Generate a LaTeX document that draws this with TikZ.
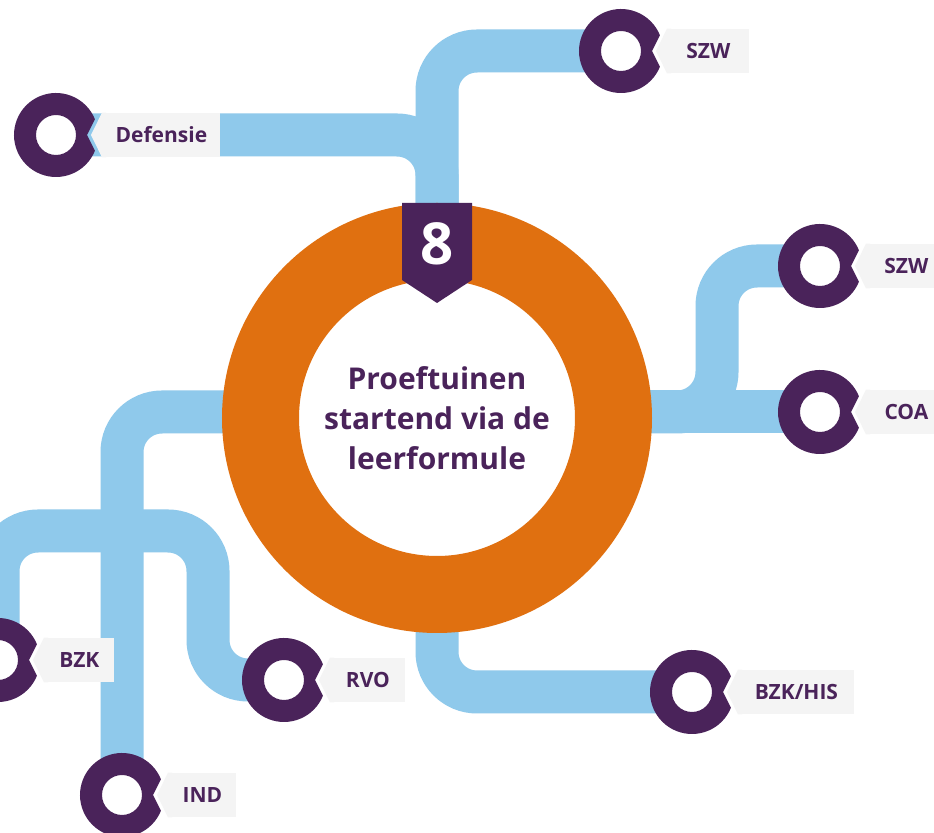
\documentclass[tikz,border=0pt]{standalone}
\usepackage{fontspec}
\setmainfont{Open Sans}
\usetikzlibrary{calc}
\definecolor{purp}{HTML}{4A235A}
\definecolor{pipeblue}{HTML}{8FC9EB}
\definecolor{orng}{HTML}{E07010}
\definecolor{lblgray}{HTML}{F4F4F4}

\tikzset{
  pipe/.style={draw=pipeblue, line width=21.5pt, rounded corners=20pt},
  stationring/.pic={
    \fill[white] (0,0) circle[radius=22];
    \fill[purp, even odd rule] (22:42) arc[start angle=22, end angle=338, radius=42]
      -- (31,0) -- cycle (0,0) circle[radius=20];
  },
  lbl/.style={fill=lblgray, text=purp, font=\bfseries\fontsize{10.5}{12}\selectfont,
    minimum height=22pt, inner sep=0pt, anchor=west},
}

% ring with a notch, plus a label tag pointing at it
\newcommand\station[3]{%
  \pic at (#1) {stationring};
  \node[lbl, minimum width=#3] (l#1) at ($(#1)+(46,0)$) {#2};
  \fill[lblgray] (l#1.north west) -- ($(#1)+(35,0)$) -- (l#1.south west)
    -- ([xshift=2pt]l#1.south west) -- ([xshift=2pt]l#1.north west) -- cycle;
}

\begin{document}
\begin{tikzpicture}[x=0.5pt, y=-0.5pt]
\fill[white] (0,0) rectangle (934,833);
\useasboundingbox (0,0) rectangle (934,833);

% hub and stations
\coordinate (hub) at (437,418);
\coordinate (szwA) at (621,51);
\coordinate (def) at (56,135);
\coordinate (szwB) at (820,266);
\coordinate (coa) at (820,412);
\coordinate (his) at (692,692);
\coordinate (rvo) at (284,680);
\coordinate (bzk) at (-2,660);
\coordinate (ind) at (122,795);
% junctions
\coordinate (rj) at (717,412);
\coordinate (lj) at (122,412);
\coordinate (bj) at (122,531);
\coordinate (rb) at (208,531);

% lines
\draw[pipe] (hub) -- (hub |- szwA) -- (szwA);
\draw[pipe] (def) -- (def -| hub) -- (hub);
\draw[pipe] (coa -| hub) -- (coa);
\draw[pipe] (coa -| hub) -- (rj) -- (rj |- szwB) -- (szwB);
\draw[pipe] (coa -| hub) -- (lj) -- (ind);
\draw[pipe] (bj) -- (bj -| bzk) -- (bzk);
\draw[pipe] (bj) -- (rb) -- (rb |- rvo) -- (rvo);
\draw[pipe] (hub) -- (hub |- his) -- (his);

% central ring
\draw[draw=orng, fill=white, line width=38.5pt] (hub) circle[radius=176.5];
\fill[purp] (402,203) -- (472,203) -- (472,280) -- (437,303) -- (402,280) -- cycle;
\node[text=white, font=\bfseries\fontsize{29}{29}\selectfont] (num) at (437,244) {8};
\node[text=purp, align=center, font=\bfseries\fontsize{15}{20}\selectfont] (title) at (437,418)
  {Proeftuinen\\startend via de\\leerformule};

% stations
\station{szwA}{SZW}{41pt}
\station{def}{Defensie}{59pt}
\station{szwB}{SZW}{40pt}
\station{coa}{COA}{40pt}
\station{his}{BZK/HIS}{58pt}
\station{rvo}{RVO}{37.5pt}
\station{bzk}{BZK}{35pt}
\station{ind}{IND}{34pt}
\end{tikzpicture}
\end{document}
